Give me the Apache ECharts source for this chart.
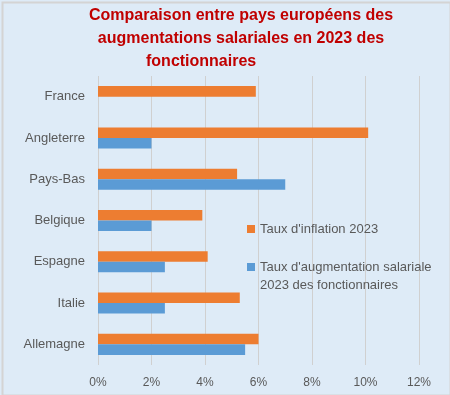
<!DOCTYPE html>
<html>
<head>
<meta charset="utf-8">
<script src="https://cdn.jsdelivr.net/npm/echarts@6/dist/echarts.min.js"></script>
<style>
html,body{margin:0;padding:0;background:#deebf7;}
#c{width:450px;height:395px;}
</style>
</head>
<body>
<div id="c"></div>
<script>
const categories = ['France', 'Angleterre', 'Pays-Bas', 'Belgique', 'Espagne', 'Italie', 'Allemagne'];
const inflation = [5.9, 10.1, 5.2, 3.9, 4.1, 5.3, 6.0];
const salaire = [null, 2.0, 7.0, 2.0, 2.5, 2.5, 5.5];
const xTicks = [0, 2, 4, 6, 8, 10, 12];
const nameInflation = "Taux d'inflation 2023";
const nameSalaire = "Taux d'augmentation salariale 2023 des fonctionnaires";

const chart = echarts.init(document.getElementById('c'));
chart.setOption({
  backgroundColor: '#deebf7',
  animation: false,
  graphic: [{
    type: 'rect', left: 0, top: 0, silent: true,
    shape: {x: 1, y: 1, width: 448, height: 393},
    style: {fill: 'none', stroke: '#d4d4d4', lineWidth: 2}
  }],
  title: [{
    text: 'Comparaison entre pays européens des\naugmentations salariales en 2023 des',
    left: 241, top: 4, padding: 0, textAlign: 'center',
    textStyle: {fontFamily: 'Liberation Sans', fontWeight: 'bold', fontSize: 16, color: '#c00000', lineHeight: 23}
  }, {
    text: 'fonctionnaires',
    left: 146, top: 50, padding: 0,
    textStyle: {fontFamily: 'Liberation Sans', fontWeight: 'bold', fontSize: 16, color: '#c00000', lineHeight: 23}
  }],
  legend: {
    orient: 'vertical', left: 247, top: 220, padding: 0,
    itemWidth: 8, itemHeight: 8, itemGap: 2,
    icon: 'rect',
    textStyle: {fontFamily: 'Liberation Sans', fontSize: 13, color: '#595959', lineHeight: 18},
    formatter: function (n) { return n === nameSalaire ? "\nTaux d'augmentation salariale\n2023 des fonctionnaires" : n; },
    data: [nameInflation, nameSalaire]
  },
  grid: {left: 98, right: 31, top: 76, bottom: 30, containLabel: false},
  xAxis: {
    type: 'value', min: 0, max: 12, interval: 2,
    axisLine: {show: false}, axisTick: {show: false},
    splitLine: {lineStyle: {color: '#d0d0d0', width: 1}},
    axisLabel: {formatter: '{value}%', fontFamily: 'Liberation Sans', fontSize: 12, color: '#595959', margin: 12,
      customValues: xTicks}
  },
  yAxis: {
    type: 'category', data: categories, inverse: true,
    axisLine: {show: false}, axisTick: {show: false},
    axisLabel: {fontFamily: 'Liberation Sans', fontSize: 13, color: '#595959', margin: 13}
  },
  series: [{
    name: nameInflation, type: 'bar', data: inflation,
    itemStyle: {color: '#ed7d31'}, barGap: '0%', barCategoryGap: '49%'
  }, {
    name: nameSalaire, type: 'bar', data: salaire,
    itemStyle: {color: '#5b9bd5'}, barGap: '0%', barCategoryGap: '49%'
  }]
});
</script>
</body>
</html>
